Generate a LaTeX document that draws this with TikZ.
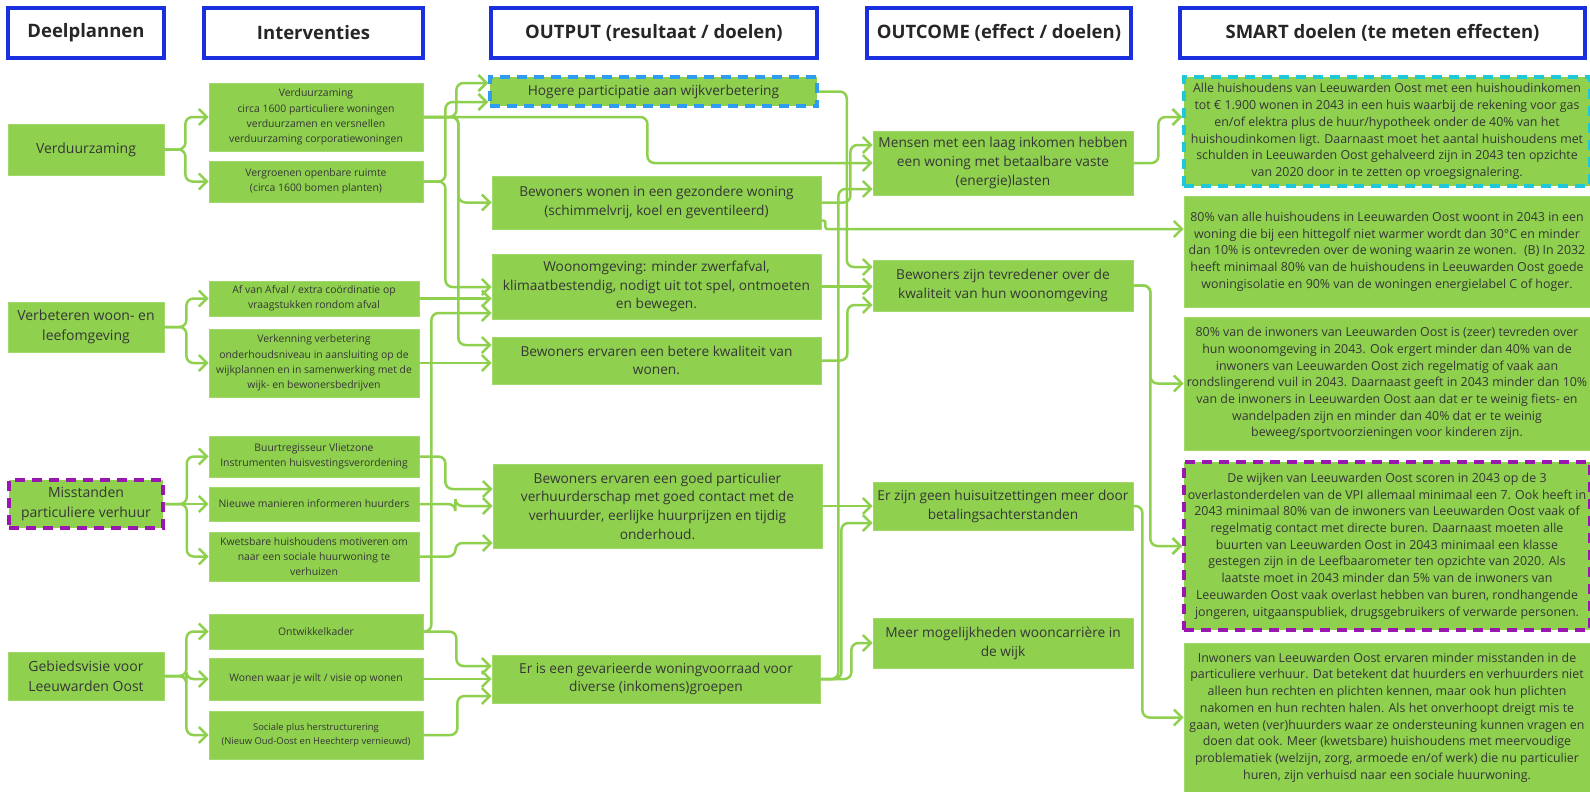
\documentclass[tikz,border=0pt]{standalone}
\usepackage{fontspec}
\setmainfont{Open Sans}
\usetikzlibrary{arrows.meta,calc}
\definecolor{boxgreen}{HTML}{8FD14F}
\definecolor{linegreen}{HTML}{8FD14F}
\definecolor{txt}{HTML}{363636}
\definecolor{hdrblue}{HTML}{1A2FE0}
\definecolor{dashblue}{HTML}{2E9CF2}
\definecolor{dashcyan}{HTML}{1EC8D8}
\definecolor{dashpurple}{HTML}{9A16B0}
\begin{document}
\begin{tikzpicture}[x=1pt,y=-1pt,
  hdr/.style={draw=hdrblue, line width=3.5pt, fill=white, text=black!85, inner sep=0pt, font=\bfseries\fontsize{18.5}{22}\selectfont},
  box/.style={fill=boxgreen, draw=boxgreen!85!white, line width=0.8pt, text=txt, align=center, inner sep=0pt},
  fa/.style={font=\fontsize{14}{20.5}\selectfont},
  fb/.style={font=\fontsize{10.4}{15.3}\selectfont},
  fbs/.style={font=\fontsize{9.4}{14}\selectfont},
  fc/.style={font=\fontsize{13.7}{18.7}\selectfont},
  fd/.style={font=\fontsize{13.7}{19}\selectfont},
  fe/.style={font=\fontsize{12.4}{16.7}\selectfont},
  dashbox/.style={draw=#1, line width=3.5pt, dash pattern=on 10pt off 7pt},
  conn/.style={draw=linegreen, line width=2.5pt, rounded corners=7pt,
    -{Straight Barb[length=8pt,width=16pt]}}]
\useasboundingbox[fill=white] (0,0) rectangle (1590,792);

% headers
\node[hdr, minimum width=156pt, minimum height=50pt] (H1) at (86,33) {Deelplannen};
\node[hdr, minimum width=219pt, minimum height=50pt] (H2) at (313.5,33) {Interventies};
\node[hdr, minimum width=326pt, minimum height=50pt] (H3) at (654,33) {OUTPUT (resultaat / doelen)};
\node[hdr, minimum width=264pt, minimum height=50pt] (H4) at (999,33) {OUTCOME (effect / doelen)};
\node[hdr, minimum width=405pt, minimum height=50pt] (H5) at (1382.5,33) {SMART doelen (te meten effecten)};

% column 1
\node[box, fa, minimum width=156pt, minimum height=51pt] (D1) at (86,149.5) {Verduurzaming};
\node[box, fa, minimum width=156pt, minimum height=50pt] (D2) at (86,327) {Verbeteren woon- en\\leefomgeving};
\node[box, fa, dashbox=dashpurple, minimum width=154pt, minimum height=48pt] (D3) at (86,504) {Misstanden\\particuliere verhuur};
\node[box, fa, minimum width=156pt, minimum height=48pt] (D4) at (86,676) {Gebiedsvisie voor\\Leeuwarden Oost};

% column 2
\node[box, fb, minimum width=214pt, minimum height=68pt] (I1) at (316,117) {Verduurzaming\\circa 1600 particuliere woningen\\verduurzamen en versnellen\\verduurzaming corporatiewoningen};
\node[box, fb, minimum width=214pt, minimum height=41pt] (I2) at (316,181.5) {Vergroenen openbare ruimte\\(circa 1600 bomen planten)};
\node[box, fb, minimum width=210pt, minimum height=35pt] (I3) at (314,298.5) {Af van Afval / extra coördinatie op\\vraagstukken rondom afval};
\node[box, fb, minimum width=210pt, minimum height=68pt] (I4) at (314,363) {Verkenning verbetering\\onderhoudsniveau in aansluiting op de\\wijkplannen en in samenwerking met de\\wijk- en bewonersbedrijven};
\node[box, fb, minimum width=210pt, minimum height=41pt] (I5) at (314,456.5) {Buurtregisseur Vlietzone\\Instrumenten huisvestingsverordening};
\node[box, fb, minimum width=210pt, minimum height=34pt] (I6) at (314,504) {Nieuwe manieren informeren huurders};
\node[box, fb, minimum width=210pt, minimum height=49pt] (I7) at (314,556.5) {Kwetsbare huishoudens motiveren om\\naar een sociale huurwoning te\\verhuizen};
\node[box, fb, minimum width=214pt, minimum height=35pt] (I8) at (316,631.5) {Ontwikkelkader};
\node[box, fb, minimum width=214pt, minimum height=42pt] (I9) at (316,679) {Wonen waar je wilt / visie op wonen};
\node[box, fbs, minimum width=214pt, minimum height=48pt] (I10) at (316,735) {Sociale plus herstructurering\\(Nieuw Oud-Oost en Heechterp vernieuwd)};

% column 3
\node[box, fc, dashbox=dashblue, minimum width=327pt, minimum height=29pt] (O1) at (653.5,91.5) {Hogere participatie aan wijkverbetering};
\node[box, fc, minimum width=329pt, minimum height=53pt] (O2) at (656.5,202.5) {Bewoners wonen in een gezondere woning\\(schimmelvrij, koel en geventileerd)};
\node[box, fc, minimum width=329pt, minimum height=65pt] (O3) at (656.5,286.5) {Woonomgeving: minder zwerfafval,\\klimaatbestendig, nodigt uit tot spel, ontmoeten\\en bewegen.};
\node[box, fc, minimum width=329pt, minimum height=47pt] (O4) at (656.5,360.5) {Bewoners ervaren een betere kwaliteit van\\wonen.};
\node[box, fc, minimum width=329pt, minimum height=84pt] (O5) at (657.5,506) {Bewoners ervaren een goed particulier\\verhuurderschap met goed contact met de\\verhuurder, eerlijke huurprijzen en tijdig\\onderhoud.};
\node[box, fc, minimum width=328pt, minimum height=48pt] (O6) at (656,679) {Er is een gevarieerde woningvoorraad voor\\diverse (inkomens)groepen};

% column 4
\node[box, fd, minimum width=260pt, minimum height=64pt] (C1) at (1003,163) {Mensen met een laag inkomen hebben\\een woning met betaalbare vaste\\(energie)lasten};
\node[box, fd, minimum width=260pt, minimum height=51pt] (C2) at (1003,285.5) {Bewoners zijn tevredener over de\\kwaliteit van hun woonomgeving};
\node[box, fd, minimum width=260pt, minimum height=48pt] (C3) at (1003,506) {Er zijn geen huisuitzettingen meer door\\betalingsachterstanden};
\node[box, fd, minimum width=260pt, minimum height=50pt] (C4) at (1003,643) {Meer mogelijkheden wooncarrière in\\de wijk};

% column 5
\node[box, fe, dashbox=dashcyan, minimum width=406pt, minimum height=109pt] (S1) at (1387,131.5) {Alle huishoudens van Leeuwarden Oost met een huishoudinkomen\\tot € 1.900 wonen in 2043 in een huis waarbij de rekening voor gas\\en/of elektra plus de huur/hypotheek onder de 40\% van het\\huishoudinkomen ligt. Daarnaast moet het aantal huishoudens met\\schulden in Leeuwarden Oost gehalveerd zijn in 2043 ten opzichte\\van 2020 door in te zetten op vroegsignalering.};
\node[box, fe, minimum width=406pt, minimum height=111pt] (S2) at (1387,251.5) {80\% van alle huishoudens in Leeuwarden Oost woont in 2043 in een\\woning die bij een hittegolf niet warmer wordt dan 30°C en minder\\dan 10\% is ontevreden over de woning waarin ze wonen.~ (B) In 2032\\heeft minimaal 80\% van de huishoudens in Leeuwarden Oost goede\\woningisolatie en 90\% van de woningen energielabel C of hoger.};
\node[box, fe, minimum width=406pt, minimum height=133pt] (S3) at (1387,383.5) {80\% van de inwoners van Leeuwarden Oost is (zeer) tevreden over\\hun woonomgeving in 2043. Ook ergert minder dan 40\% van de\\inwoners van Leeuwarden Oost zich regelmatig of vaak aan\\rondslingerend vuil in 2043. Daarnaast geeft in 2043 minder dan 10\%\\van de inwoners in Leeuwarden Oost aan dat er te weinig fiets- en\\wandelpaden zijn en minder dan 40\% dat er te weinig\\beweeg/sportvoorzieningen voor kinderen zijn.};
\node[box, fe, dashbox=dashpurple, minimum width=406pt, minimum height=168pt] (S4) at (1387,546) {De wijken van Leeuwarden Oost scoren in 2043 op de 3\\overlastonderdelen van de VPI allemaal minimaal een 7. Ook heeft in\\2043 minimaal 80\% van de inwoners van Leeuwarden Oost vaak of\\regelmatig contact met directe buren. Daarnaast moeten alle\\buurten van Leeuwarden Oost in 2043 minimaal een klasse\\gestegen zijn in de Leefbaarometer ten opzichte van 2020. Als\\laatste moet in 2043 minder dan 5\% van de inwoners van\\Leeuwarden Oost vaak overlast hebben van buren, rondhangende\\jongeren, uitgaanspubliek, drugsgebruikers of verwarde personen.};
\node[box, fe, minimum width=406pt, minimum height=149pt] (S5) at (1387,717.5) {Inwoners van Leeuwarden Oost ervaren minder misstanden in de\\particuliere verhuur. Dat betekent dat huurders en verhuurders niet\\alleen hun rechten en plichten kennen, maar ook hun plichten\\nakomen en hun rechten halen. Als het onverhoopt dreigt mis te\\gaan, weten (ver)huurders waar ze ondersteuning kunnen vragen en\\doen dat ook. Meer (kwetsbare) huishoudens met meervoudige\\problematiek (welzijn, zorg, armoede en/of werk) die nu particulier\\huren, zijn verhuisd naar een sociale huurwoning.};

% col1 -> col2
\draw[conn] (D1.east) -- ++(21,0) |- (I1.west);
\draw[conn] (D1.east) -- ++(21,0) |- (I2.west);
\draw[conn] (D2.east) -- ++(22,0) |- (I3.west);
\draw[conn] (D2.east) -- ++(22,0) |- (I4.west);
\draw[conn] (D3.east) -- ++(22,0) |- (I5.west);
\draw[conn] (D3.east) -- (I6.west);
\draw[conn] (D3.east) -- ++(22,0) |- (I7.west);
\draw[conn] (D4.east) -- ++(22,0) |- (I8.west);
\draw[conn] (D4.east) -- ++(22,0) |- (I9.west);
\draw[conn] (D4.east) -- ++(22,0) |- (I10.west);

% col2 -> col3
\draw[conn] (I1.east) -- ++(33,0) |- (O1.west |- 0,83);
\draw[conn] (I1.east) -- ++(35,0) |- (O2.west);
\draw[conn] (I1.east) -- ++(35,0) |- (O4.west |- 0,345);
\draw[conn] (I1.east) -- ++(224,0) |- (C1.west);
\draw[conn] (I2.east) -- ++(22,0) |- (O1.west |- 0,102);
\draw[conn] (I2.east) -- ++(22,0) |- (O3.west |- 0,287);
\draw[conn] (I3.east) -- (I3.east -| O3.west);
\draw[conn] (I8.east) -- ++(8,0) |- (O3.west |- 0,313);
\draw[conn] (I4.east) -- (I4.east -| O4.west);
\draw[conn] (I5.east) -- ++(26,0) |- (O5.west |- 0,489);
\draw[conn] (I6.east) -- ++(36,0) |- (O5.west);
\draw[conn] (I7.east) -- ++(36,0) |- (O5.west |- 0,543);
\draw[conn] (I8.east) -- ++(33,0) |- (O6.west |- 0,666);
\draw[conn] (I9.east) -- (I9.east -| O6.west);
\draw[conn] (I10.east) -- ++(34,0) |- (O6.west |- 0,696);

% col3 -> col4
\draw[conn] (O1.east) -- ++(28,0) |- (C2.west |- 0,267);
\draw[conn] (O2.east) -- ++(29,0) |- (C1.west |- 0,145);
\draw[conn, rounded corners=2pt] ($(O2.east)+(0,18)$) -- ++(4,0) |- (S2.west |- 0,229);
\draw[conn] (O3.east) -- (O3.east -| C2.west);
\draw[conn] (O4.east) -- ++(26,0) |- (C2.west |- 0,305);
\draw[conn] (O5.east) -- (O5.east -| C3.west);
\draw[conn] (O6.east) -- ++(18,0) |- (C1.west |- 0,189);
\draw[conn] (O6.east) -- ++(21,0) |- (C3.west |- 0,523);
\draw[conn] (O6.east) -- ++(31,0) |- (C4.west);

% col4 -> col5
\draw[conn] (C1.east) -- ++(25,0) |- (S1.west |- 0,117);
\draw[conn] (C2.east) -- ++(17,0) |- (S3.west);
\draw[conn] (C2.east) -- ++(17,0) |- (S4.west);
\draw[conn] (C3.east) -- ++(9,0) |- (S5.west);
\end{tikzpicture}
\end{document}
